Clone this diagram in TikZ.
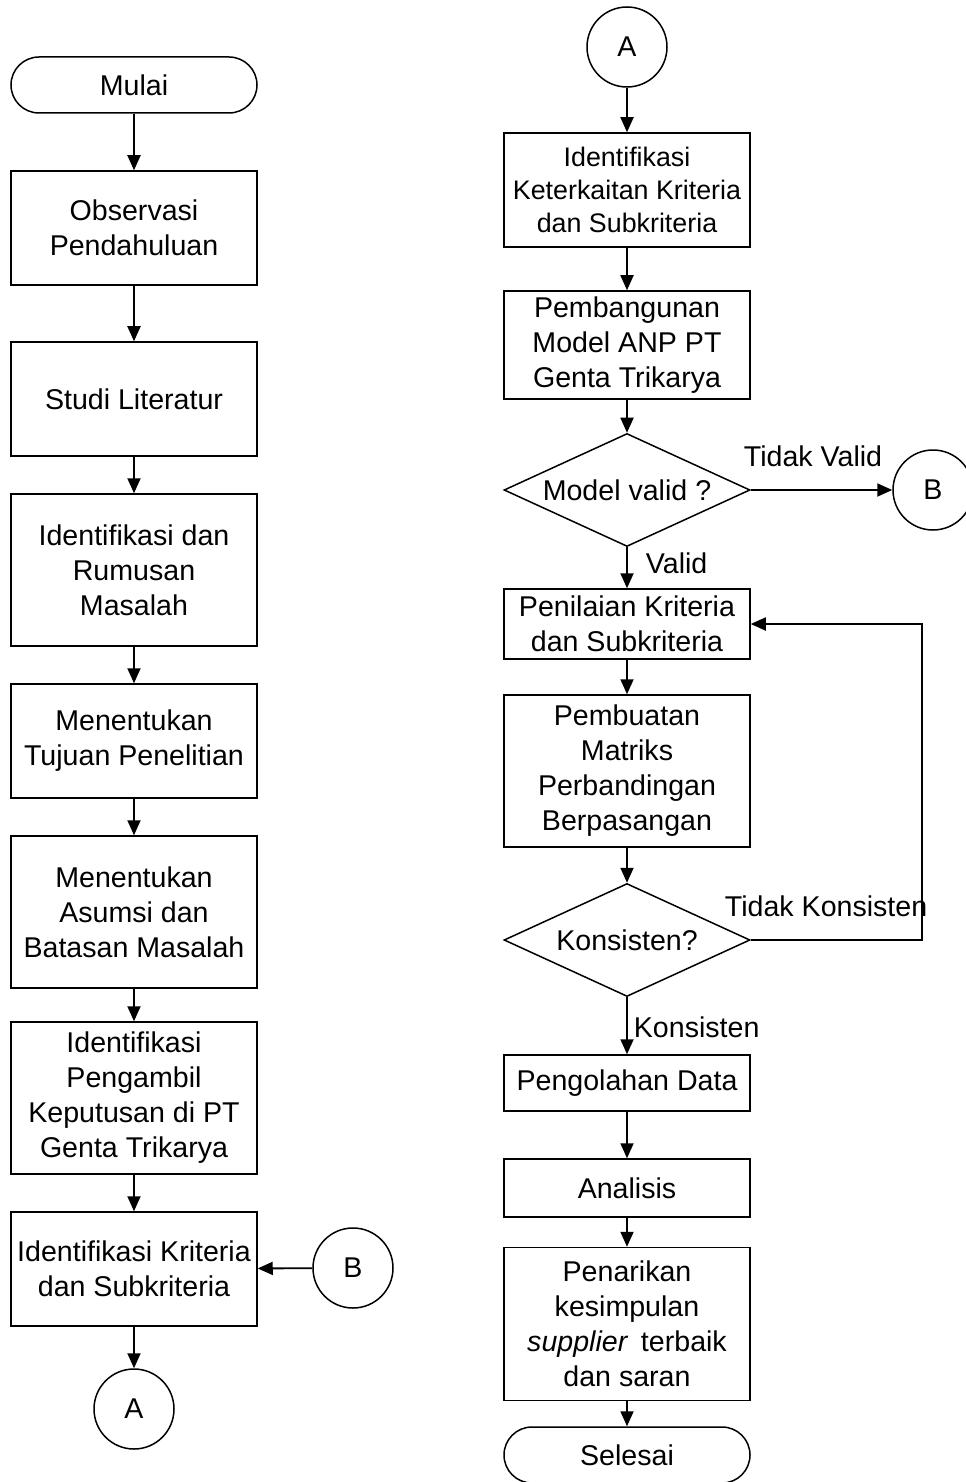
\documentclass[tikz,border=0pt]{standalone}
\usepackage{fontspec}
\setmainfont{Liberation Sans}
\usetikzlibrary{shapes.geometric}
\usetikzlibrary{arrows.meta}

\begin{document}
\begin{tikzpicture}[x=0.3mm,y=-0.3mm,
    font=\fontsize{24.4}{29.9}\selectfont,
    proses/.style={draw,line width=0.45mm,minimum width=73.8mm,align=center,inner sep=0pt},
    terminal/.style={proses,rounded corners=8.4mm,minimum height=16.8mm},
    konektor/.style={draw,circle,line width=0.45mm,minimum size=24mm,inner sep=0pt},
    keputusan/.style={draw,diamond,line width=0.45mm,minimum width=73.8mm,minimum height=33.9mm,aspect=2.18,inner sep=0pt},
    panah/.style={-{Triangle[length=4.5mm,width=3.9mm]},line width=0.55mm},
    ket/.style={inner sep=0pt}]
    \useasboundingbox (0,0) rectangle (966,1482);
    \node[terminal] (mulai) at (134,85) {Mulai};
    \node[proses,minimum height=34.2mm] (observasi) at (134,228) {Observasi\\Pendahuluan};
    \node[proses,minimum height=34.2mm] (studi) at (134,399) {Studi Literatur};
    \node[proses,minimum height=45.6mm] (rumusan) at (134,570) {Identifikasi dan\\Rumusan\\Masalah};
    \node[proses,minimum height=34.2mm] (tujuan) at (134,741) {Menentukan\\Tujuan Penelitian};
    \node[proses,minimum height=45.6mm] (asumsi) at (134,912) {Menentukan\\Asumsi dan\\Batasan Masalah};
    \node[proses,minimum height=45.6mm] (pengambil) at (134,1098) {Identifikasi\\Pengambil\\Keputusan di PT\\Genta Trikarya};
    \node[proses,minimum height=34.2mm] (kriteria) at (134,1269) {Identifikasi Kriteria\\dan Subkriteria};
    \node[konektor] (akiri) at (134,1409) {A};
    \node[konektor] (bkiri) at (353,1268) {B};
    \draw[panah] (mulai) -- (observasi);
    \draw[panah] (observasi) -- (studi);
    \draw[panah] (studi) -- (rumusan);
    \draw[panah] (rumusan) -- (tujuan);
    \draw[panah] (tujuan) -- (asumsi);
    \draw[panah] (asumsi) -- (pengambil);
    \draw[panah] (pengambil) -- (kriteria);
    \draw[panah] (bkiri) -- (kriteria);
    \draw[panah] (kriteria) -- (akiri);

    \node[konektor] (akanan) at (627,47) {A};
    \node[proses,minimum height=34.2mm,font=\fontsize{22.9}{28.2}\selectfont] (keterkaitan) at (627,190) {Identifikasi\\Keterkaitan Kriteria\\dan Subkriteria};
    \node[proses,minimum height=32.4mm] (model) at (627,345) {Pembangunan\\Model ANP PT\\Genta Trikarya};
    \node[keputusan] (valid) at (627,490) {Model valid ?};
    \node[konektor] (bkanan) at (933,490) {B};
    \node[proses,minimum height=21mm] (penilaian) at (627,624) {Penilaian Kriteria\\dan Subkriteria};
    \node[proses,minimum height=45.6mm] (matriks) at (627,771) {Pembuatan\\Matriks\\Perbandingan\\Berpasangan};
    \node[keputusan] (konsisten) at (627,940) {Konsisten?};
    \coordinate (balik) at (922,940);
    \node[proses,minimum height=16.8mm] (olah) at (627,1083) {Pengolahan Data};
    \node[proses,minimum height=17.4mm] (analisis) at (627,1188) {Analisis};
    \node[proses,minimum height=45.9mm] (tarik) at (627,1324) {Penarikan\\kesimpulan\\\textit{supplier}\, terbaik\\dan saran};
    \node[terminal] (selesai) at (627,1455) {Selesai};
    \draw[panah] (akanan) -- (keterkaitan);
    \draw[panah] (keterkaitan) -- (model);
    \draw[panah] (model) -- (valid);
    \draw[panah] (valid) -- node[ket,pos=0.44,above=6.6mm] {Tidak Valid} (bkanan);
    \draw[panah] (valid) -- node[ket,pos=0.38,right=5.4mm] {Valid} (penilaian);
    \draw[panah] (penilaian) -- (matriks);
    \draw[panah] (matriks) -- (konsisten);
    \draw[panah] (konsisten.east) -- node[ket,pos=0.44,above=6.6mm] {Tidak Konsisten} (balik) |- (penilaian.east);
    \draw[panah] (konsisten) -- node[ket,pos=0.53,right=1.8mm] {Konsisten} (olah);
    \draw[panah] (olah) -- (analisis);
    \draw[panah] (analisis) -- (tarik);
    \draw[panah] (tarik) -- (selesai);
\end{tikzpicture}
\end{document}
